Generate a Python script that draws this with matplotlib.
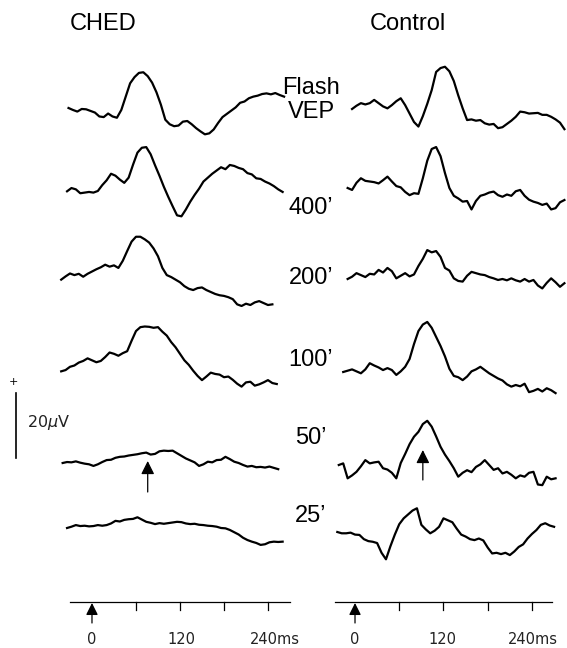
import numpy as np
from matplotlib import pyplot as plt

plt.rcParams['font.family'] = ['Liberation Sans', 'DejaVu Sans']

STEP = 6  # ms between samples

# CHED column, uV relative to each trace's start, sampled every STEP ms
ched_start = [-32, -34, -42, -42, -40, -34]
ched_flash = [0.0, -0.6, -1.1, -0.3, -0.4, -0.9, -1.4, -2.6, -2.8, -1.7,
              -2.6, -3.0, -0.6, 3.5, 7.6, 9.5, 10.8, 11.0, 9.8, 7.8,
              4.8, 1.0, -3.6, -5.0, -5.6, -5.4, -4.2, -4.0, -5.0, -6.2,
              -7.2, -8.1, -7.8, -6.6, -4.6, -2.8, -1.8, -0.8, 0.2, 1.6,
              2.0, 3.0, 3.5, 3.8, 4.3, 4.5, 4.2, 4.6, 4.0, 3.5]
ched_400 = [-0.4, 0.6, 0.2, -1.0, -0.8, -0.6, -0.8, -0.3, 1.5, 3.0,
            5.0, 4.4, 3.2, 2.2, 3.8, 7.8, 11.5, 13.0, 13.2, 11.0,
            7.6, 4.4, 1.0, -2.1, -5.0, -7.8, -8.1, -6.0, -3.6, -1.5,
            0.4, 2.6, 3.8, 5.0, 6.0, 7.0, 6.4, 7.7, 7.4, 6.8,
            6.4, 5.2, 4.8, 3.6, 3.4, 2.6, 2.0, 1.2, 0.2, -0.6]
ched_200 = [-0.2, 0.8, 1.7, 1.2, 1.6, 0.7, 1.6, 2.3, 3.0, 3.6,
            4.4, 3.8, 4.2, 3.4, 5.6, 8.6, 11.5, 13.0, 13.0, 12.2,
            11.2, 9.4, 7.0, 3.4, 1.2, 0.6, -0.2, -1.0, -2.2, -3.0,
            -3.4, -2.8, -2.6, -3.4, -4.0, -4.6, -5.0, -5.2, -5.6, -6.2,
            -7.8, -8.3, -7.6, -8.0, -7.2, -6.8, -7.4, -8.0, -7.8]
ched_100 = [0.2, 0.6, 1.6, 2.0, 2.9, 3.4, 4.2, 3.6, 3.0, 3.4,
            4.6, 6.0, 5.6, 5.0, 5.8, 6.4, 9.6, 12.6, 13.8, 14.0,
            13.9, 13.6, 13.8, 12.4, 11.2, 9.2, 7.6, 5.6, 3.6, 2.2,
            0.4, -1.2, -2.5, -1.4, -0.2, -0.6, -0.8, -1.6, -1.4, -2.4,
            -3.6, -4.5, -3.2, -3.0, -4.2, -3.8, -3.2, -2.5, -3.4, -3.7]
ched_50 = [0.0, 0.3, 0.2, 0.5, 0.1, -0.2, -0.4, -0.9, -0.4, 0.3,
           0.9, 1.0, 1.6, 1.9, 2.0, 2.3, 2.5, 2.7, 3.0, 3.2,
           2.6, 2.8, 3.6, 3.8, 3.7, 3.8, 3.0, 2.2, 1.4, 0.8,
           0.2, -0.9, -0.4, 0.4, 0.2, 0.9, 1.0, 1.9, 1.2, 0.4,
           0.0, -0.6, -1.1, -0.9, -1.3, -1.2, -1.4, -1.1, -1.5, -1.9]
ched_25 = [0.0, 0.4, 0.9, 0.6, 0.7, 0.5, 0.6, 0.9, 0.7, 0.9,
           1.4, 2.2, 2.0, 2.5, 2.7, 2.8, 3.3, 2.6, 1.9, 1.6,
           1.2, 1.5, 1.3, 1.5, 1.7, 1.9, 1.8, 1.4, 1.2, 1.3,
           1.0, 0.9, 0.7, 0.6, 0.4, 0.0, -0.1, -0.6, -1.3, -2.0,
           -3.0, -3.7, -4.2, -4.6, -5.2, -5.0, -4.4, -4.2, -4.3, -4.2]

# Control column
ctrl_start = [-4, -10, -10, -16, -22, -24]
ctrl_flash = [0.0, 1.0, 1.8, 1.4, 1.8, 2.8, 1.8, 0.8, 0.2, 1.2,
              2.4, 3.3, 1.2, -1.4, -4.0, -5.4, -2.2, 1.6, 5.8, 11.4,
              12.6, 13.0, 11.6, 8.6, 4.2, 0.2, -3.4, -3.2, -3.6, -3.4,
              -4.4, -4.8, -4.6, -5.9, -5.6, -4.6, -3.6, -2.4, -0.8, -1.0,
              -1.4, -1.3, -1.2, -1.8, -1.8, -2.4, -3.2, -4.2, -6.2]
ctrl_400 = [0.0, -0.6, 1.6, 3.0, 2.2, 2.0, 1.8, 1.4, 2.4, 3.5,
            2.0, 0.6, 0.2, -1.2, -2.2, -1.6, -1.8, 3.0, 8.4, 12.0,
            12.6, 9.8, 4.6, 0.0, -2.4, -3.2, -4.2, -4.0, -6.6, -4.0,
            -2.4, -2.0, -1.4, -1.1, -2.2, -2.7, -2.0, -2.4, -1.0, -0.6,
            -2.4, -3.6, -4.2, -4.6, -5.2, -4.8, -6.6, -6.2, -4.4, -3.7]
ctrl_200 = [0.0, 0.7, 1.8, 1.2, 0.6, 1.6, 1.4, 2.8, 2.0, 3.4,
            2.4, 0.2, 1.0, 1.8, 0.8, 1.4, 4.0, 6.2, 8.9, 8.2,
            8.6, 6.8, 3.4, 2.6, 0.2, -0.6, -0.8, 1.0, 2.2, 1.8,
            1.4, 1.2, 0.6, 0.2, -0.3, 0.0, -0.4, 0.2, -0.4, -0.8,
            0.0, -0.8, -0.3, -2.0, -2.9, -1.2, 0.2, -1.0, -2.4, -1.3]
ctrl_100 = [0.0, 0.4, 0.8, 0.2, -0.4, 0.8, 2.7, 2.0, 1.4, 0.6,
            1.2, 0.6, -0.9, 0.2, 1.6, 4.0, 8.6, 12.6, 14.6, 15.4,
            13.6, 10.8, 8.0, 4.8, 1.0, -1.2, -1.6, -2.5, -1.4, 0.2,
            0.8, 1.6, 0.6, -0.4, -1.2, -2.0, -2.6, -3.8, -4.5, -4.0,
            -4.4, -3.6, -6.2, -5.8, -5.2, -6.0, -5.0, -5.6, -6.5]
ctrl_50 = [0.0, 0.5, -4.1, -3.2, -2.1, -0.4, 1.5, 0.5, 0.8, 1.0,
           -1.0, -1.4, -2.4, -4.1, 0.6, 3.4, 6.4, 8.7, 10.2, 12.6,
           13.6, 11.8, 8.8, 5.6, 3.2, 1.2, -1.0, -3.6, -2.4, -1.6,
           -2.2, -0.6, 0.2, 1.5, 0.0, -1.5, -1.0, -2.6, -2.1, -3.0,
           -4.1, -3.2, -3.6, -2.4, -2.1, -6.0, -6.2, -3.6, -4.4, -4.1]
ctrl_25 = [0.0, -0.4, -0.4, -0.2, -0.8, -0.9, -2.2, -2.8, -3.0, -3.4,
           -6.4, -8.4, -4.4, -0.8, 2.4, 4.2, 5.4, 6.6, 7.3, 2.2,
           0.8, -0.4, 0.4, 1.6, 4.2, 3.6, 3.0, 1.0, -0.8, -1.4,
           -2.2, -2.5, -2.0, -2.6, -4.8, -6.6, -6.4, -6.8, -6.4, -7.1,
           -6.0, -4.6, -3.8, -2.0, -0.6, 0.6, 2.2, 2.7, 2.0, 1.6]

ched_traces = [ched_flash, ched_400, ched_200, ched_100, ched_50, ched_25]
ctrl_traces = [ctrl_flash, ctrl_400, ctrl_200, ctrl_100, ctrl_50, ctrl_25]
row_labels = ['Flash\nVEP', '400’', '200’', '100’', '50’', '25’']
time_ticks = [0, 60, 120, 180, 240]
tick_labels = ['0', '120', '240ms']
tick_label_pos = {'ched': [0, 122, 250], 'ctrl': [0, 118, 241]}
arrow_time = {'ched': 76, 'ctrl': 92}
scale_uv = 20

# layout, in pixels of the 567x648 figure
W, H = 567, 648
PX_PER_UV = 3.25
ched_rows = [108, 190, 279, 372, 463, 528]
ctrl_rows = [109, 188, 279, 372, 465, 532]


def ypos(p):
    # pixel row from top -> axis units (uV)
    return (H - p) / PX_PER_UV


fig = plt.figure(figsize=(W / 100, H / 100), dpi=100)
ax_l = fig.add_axes([0, 0, 297 / W, 1])
ax_l.set_xlim(-125.45, 279.6)
ax_r = fig.add_axes([300 / W, 0, 267 / W, 1])
ax_r.set_xlim(-74.6, 287.5)
for ax in (ax_l, ax_r):
    ax.set_ylim(0, H / PX_PER_UV)
    ax.axis('off')


def draw_column(ax, traces, starts, rows, key, axis_span, arrow_row):
    for vals, t0, p in zip(traces, starts, rows):
        t = t0 + STEP * np.arange(len(vals))
        ax.plot(t, ypos(p) + np.array(vals), color='black', lw=1.6,
                solid_joinstyle='round', clip_on=False)

    # time axis
    y0 = ypos(602)
    ax.plot(axis_span, [y0, y0], color='black', lw=0.9, clip_on=False)
    for tk in time_ticks[1:]:
        ax.plot([tk, tk], [y0, ypos(610)], color='black', lw=0.9)
    ax.annotate('', xy=(0, ypos(603)), xytext=(0, ypos(623)),
                arrowprops=dict(arrowstyle='-|>', color='black', lw=0.9,
                                mutation_scale=18, shrinkA=0, shrinkB=0))
    for tl, x in zip(tick_labels, tick_label_pos[key]):
        ax.text(x, ypos(640), tl, ha='center', va='center', fontsize=10.5,
                family='DejaVu Sans', color='#222222')

    # latency marker on the 50' trace
    ta = arrow_time[key]
    tip, tail = arrow_row
    ax.annotate('', xy=(ta, ypos(tip)), xytext=(ta, ypos(tail)),
                arrowprops=dict(arrowstyle='-|>', color='black', lw=0.9,
                                mutation_scale=20, shrinkA=0, shrinkB=0))


draw_column(ax_l, ched_traces, ched_start, ched_rows, 'ched', [-30, 270], (461, 492))
draw_column(ax_r, ctrl_traces, ctrl_start, ctrl_rows, 'ctrl', [-27, 267], (450, 480))

# amplitude scale bar
xb = -103.6
ax_l.plot([xb, xb], [ypos(458), ypos(458) + scale_uv], color='black', lw=1.2)
ax_l.text(xb - 3, ypos(382), '+', ha='center', va='center', fontsize=8,
          family='DejaVu Sans')
ax_l.text(-88, ypos(423), f'{scale_uv}$\\mu$V', ha='left', va='center',
          fontsize=11.5, family='DejaVu Sans', color='#222222')

# column titles and stimulus labels
fig.text(70 / W, 1 - 24 / H, 'CHED', ha='left', va='center', fontsize=17)
fig.text(370 / W, 1 - 24 / H, 'Control', ha='left', va='center', fontsize=17)
label_y = [100, 208, 278, 360, 438, 516]
for lab, p in zip(row_labels, label_y):
    fig.text(311 / W, 1 - p / H, lab, ha='center', va='center', fontsize=17,
             linespacing=1.15)

fig.savefig('out.png', dpi=100)
